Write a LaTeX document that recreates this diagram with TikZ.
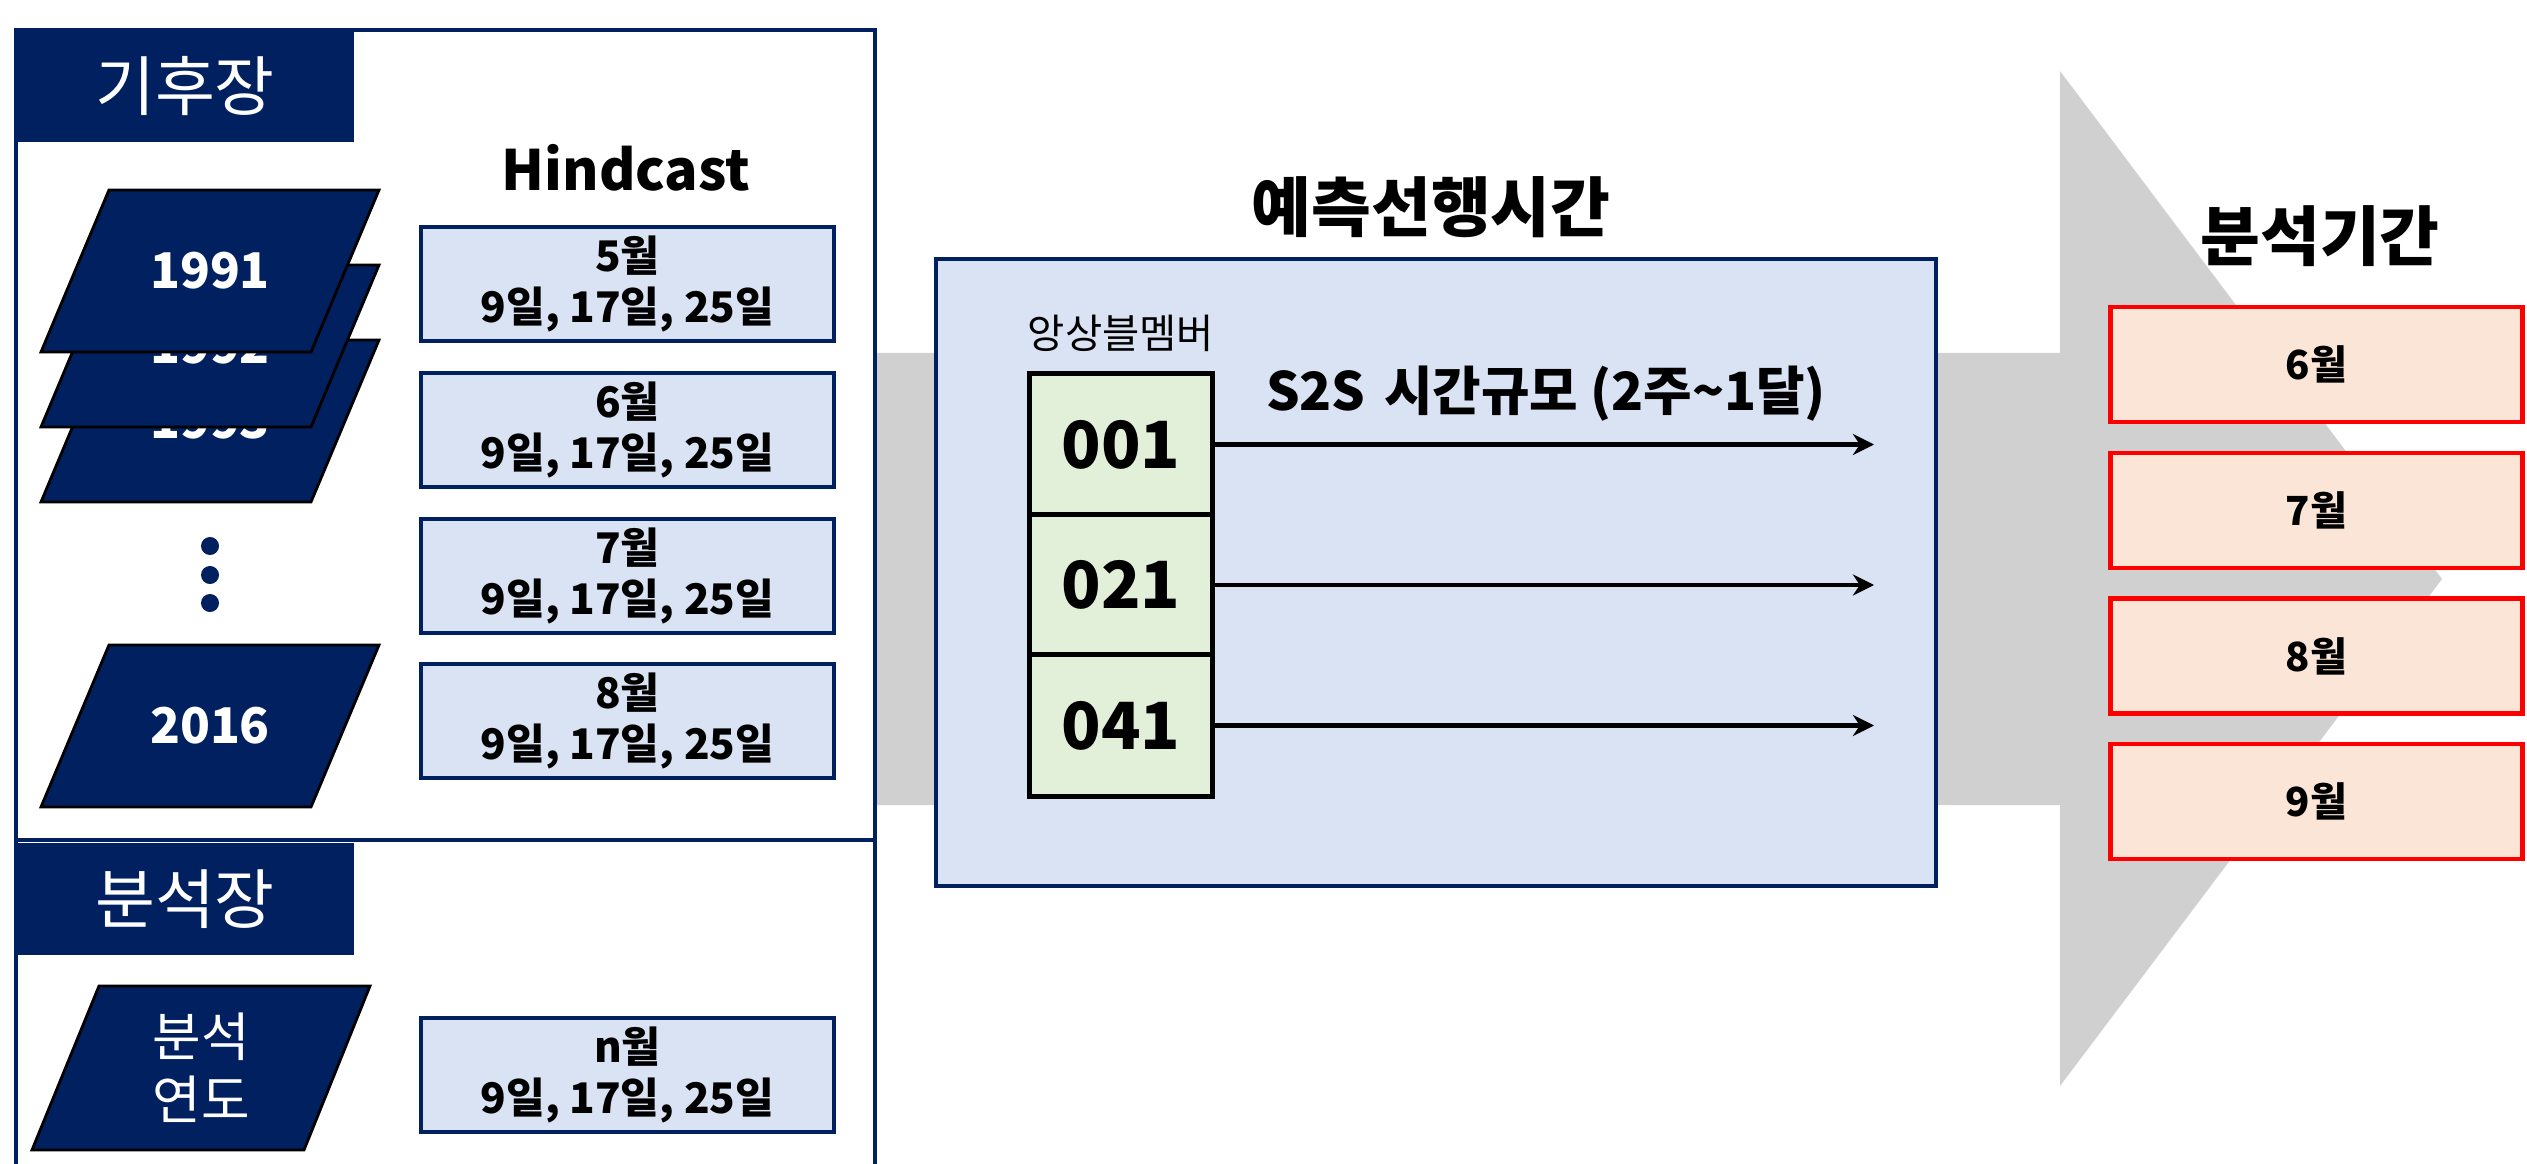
\documentclass[tikz,border=0pt]{standalone}
\usepackage{fontspec}
\setmainfont{Noto Sans CJK KR}
\usetikzlibrary{arrows.meta}
\definecolor{navy}{RGB}{0,32,96}
\definecolor{lblue}{RGB}{218,227,243}
\definecolor{lgreen}{RGB}{226,240,217}
\definecolor{peach}{RGB}{251,229,214}
\definecolor{agray}{RGB}{208,208,208}
\newcommand\fsz[2]{\fontsize{#1}{#2}\selectfont}
\begin{document}
\begin{tikzpicture}[x=0.01cm,y=-0.01cm,
  every node/.style={inner sep=0pt, outer sep=0pt},
  hdr/.style={fill=navy, text=white, font=\fsz{18.5pt}{22pt}, minimum width=3.38cm, minimum height=1.12cm},
  yrtext/.style={text=white, font=\fsz{14pt}{17pt}\bfseries},
  plgshape/.style={fill=navy, draw=black, line width=0.8pt, line join=miter},
  hbox/.style={draw=navy, fill=lblue, line width=1.2pt, minimum width=4.13cm, minimum height=1.14cm, align=center, font=\fsz{12pt}{14.5pt}\bfseries},
  mbox/.style={draw=black, fill=lgreen, line width=1.4pt, minimum width=1.82cm, minimum height=1.41cm, font=\fsz{18.5pt}{22pt}\bfseries},
  rbox/.style={draw=red, fill=peach, line width=1.4pt, minimum width=4.11cm, minimum height=1.15cm, font=\fsz{11.4pt}{14pt}\bfseries},
  title/.style={font=\fsz{18.5pt}{22pt}\bfseries},
  arr/.style={-{Stealth[length=6pt,width=6pt]}, line width=1.2pt},
  dotn/.style={circle, fill=navy, minimum size=0.18cm}
]
\useasboundingbox (0,0) rectangle (2527,1164);
% big gray arrow
\fill[agray] (870,353) -- (2060,353) -- (2060,71) -- (2442,579) -- (2060,1086) -- (2060,805) -- (870,805) -- cycle;
% left panel
\draw[navy, line width=1.2pt, fill=white] (16,30) rectangle (875,1190);
\draw[navy, line width=1.2pt] (16,840) -- (875,840);
\node[hdr] (h1) at (185,86) {기후장};
\node[hdr] (h2) at (185,899) {분석장};
\node[font=\fsz{15.8pt}{19pt}\bfseries] (hind) at (626,168) {Hindcast};
% stacked years
\filldraw[plgshape] (109,340) -- (379,340) -- (311,502) -- (41,502) -- cycle;
\node[yrtext] (y1993) at (210,421) {1993};
\filldraw[plgshape] (109,265) -- (379,265) -- (311,427) -- (41,427) -- cycle;
\node[yrtext] (y1992) at (210,346) {1992};
\filldraw[plgshape] (109,190) -- (379,190) -- (311,352) -- (41,352) -- cycle;
\node[yrtext] (y1991) at (210,271) {1991};
\node[dotn] (d1) at (210,546) {};
\node[dotn] (d2) at (210,575) {};
\node[dotn] (d3) at (210,603) {};
\filldraw[plgshape] (109,645) -- (379,645) -- (311,807) -- (41,807) -- cycle;
\node[yrtext] (y2016) at (210,726) {2016};
\filldraw[plgshape] (99,986) -- (370,986) -- (304,1150) -- (32,1150) -- cycle;
\node[text=white, align=center, font=\fsz{15pt}{18pt}] (yan) at (201,1068) {분석\\연도};
% hindcast month boxes
\node[hbox] (m5) at (627.5,284) {5월\\9일, 17일, 25일};
\node[hbox] (m6) at (627.5,430) {6월\\9일, 17일, 25일};
\node[hbox] (m7) at (627.5,576) {7월\\9일, 17일, 25일};
\node[hbox] (m8) at (627.5,721) {8월\\9일, 17일, 25일};
\node[hbox] (mn) at (627.5,1075) {n월\\9일, 17일, 25일};
% lead time box
\node[title] (lt) at (1431,207) {예측선행시간};
\node[draw=navy, fill=lblue, line width=1.2pt, minimum width=10.0cm, minimum height=6.27cm] (ltbox) at (1436,572.5) {};
\node[font=\fsz{11.5pt}{13pt}] (ens) at (1121,333) {앙상블멤버};
\node[font=\fsz{15pt}{17pt}\bfseries] (s2s) at (1546,394) {S2S\hspace{0.12em} 시간규모 (2주\char"007E 1달)};
\node[mbox] (e1) at (1121,444.5) {001};
\node[mbox] (e2) at (1121,585) {021};
\node[mbox] (e3) at (1121,725.5) {041};
\coordinate (tipx) at (1874,0);
\draw[arr] (e1.east) -- (e1.east -| tipx);
\draw[arr] (e2.east) -- (e2.east -| tipx);
\draw[arr] (e3.east) -- (e3.east -| tipx);
% analysis period
\node[title] (ap) at (2320,236) {분석기간};
\node[rbox] (r6) at (2316.5,364.5) {6월};
\node[rbox] (r7) at (2316.5,510.5) {7월};
\node[rbox] (r8) at (2316.5,656) {8월};
\node[rbox] (r9) at (2316.5,801.5) {9월};
\end{tikzpicture}
\end{document}
